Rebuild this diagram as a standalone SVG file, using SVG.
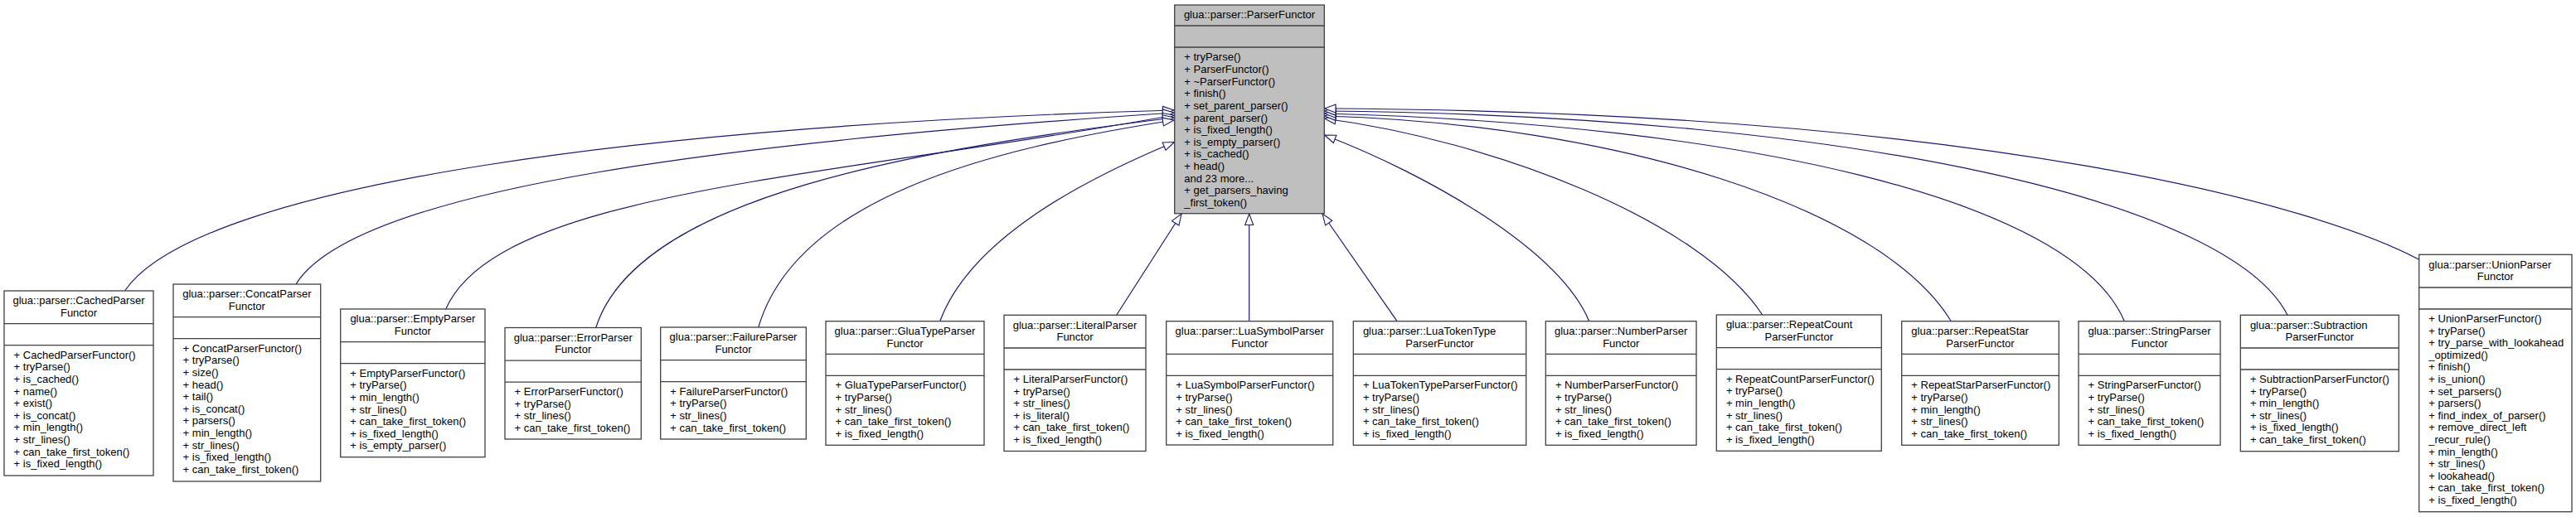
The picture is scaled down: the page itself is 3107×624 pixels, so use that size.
<svg xmlns="http://www.w3.org/2000/svg" width="3107" height="624" viewBox="0 0 3107 624">
<style>
.bg{fill:#fff}
.box{fill:#fff;stroke:#404040;stroke-width:1.3}
.root{fill:#bfbfbf;stroke:#404040;stroke-width:1.3}
.sep{stroke:#404040;stroke-width:1.3}
text{font-family:"Liberation Sans",Arial,sans-serif;font-size:13px;fill:#000}
.c{text-anchor:middle}
.edge{fill:none;stroke:#191970;stroke-width:1.2;marker-end:url(#arr)}
</style>
<defs>
<marker id="arr" markerUnits="userSpaceOnUse" markerWidth="15" markerHeight="12" refX="13.5" refY="5.5" orient="auto" overflow="visible">
<path d="M0,0.5 L13.5,5.5 L0,10.5 Z" fill="#fff" stroke="#191970" stroke-width="1.1"/>
</marker>
</defs>
<rect class="bg" x="0" y="0" width="3107" height="624"/>

<g id="edges">
<path class="edge" d="M150.5,351 C240,220 800,150 1416,133"/>
<path class="edge" d="M357,343 C430,225 900,170 1416,136"/>
<path class="edge" d="M537.7,373 C600,230 1000,215 1416,139"/>
<path class="edge" d="M718.7,395.5 C770,235 1110,180 1416,142"/>
<path class="edge" d="M914.8,395 C960,240 1190,180 1416,145"/>
<path class="edge" d="M1133.7,387.7 C1170,290 1300,220 1416.5,171.5"/>
<path class="edge" d="M1346.7,380.3 L1425,258"/>
<path class="edge" d="M1506.7,387.7 L1506.7,258"/>
<path class="edge" d="M1685,387.7 L1595,258"/>
<path class="edge" d="M1916.7,387.7 C1880,300 1720,210 1597.5,163"/>
<path class="edge" d="M2125.7,380 C2050,265 1800,170 1597.5,143"/>
<path class="edge" d="M2353.3,387.7 C2270,250 1950,150 1597.5,140"/>
<path class="edge" d="M2562.3,387.7 C2500,240 2100,150 1597.5,137"/>
<path class="edge" d="M2759,380.3 C2690,245 2250,140 1597.5,134"/>
<path class="edge" d="M2917.7,313.3 C2800,250 2400,135 1597.5,131"/>
</g>

<g id="ParserFunctor">
<rect class="root" x="1416.7" y="6" width="180.6" height="251.7"/>
<line class="sep" x1="1416.7" y1="31" x2="1597.3" y2="31"/>
<line class="sep" x1="1416.7" y1="57" x2="1597.3" y2="57"/>
<text class="c" x="1507" y="21.8">glua::parser::ParserFunctor</text>
<text x="1428.3" y="73.4">+ tryParse()</text>
<text x="1428.3" y="88">+ ParserFunctor()</text>
<text x="1428.3" y="102.6">+ ~ParserFunctor()</text>
<text x="1428.3" y="117.2">+ finish()</text>
<text x="1428.3" y="131.8">+ set_parent_parser()</text>
<text x="1428.3" y="146.5">+ parent_parser()</text>
<text x="1428.3" y="161.1">+ is_fixed_length()</text>
<text x="1428.3" y="175.7">+ is_empty_parser()</text>
<text x="1428.3" y="190.3">+ is_cached()</text>
<text x="1428.3" y="204.9">+ head()</text>
<text x="1428.3" y="219.5">and 23 more...</text>
<text x="1428.3" y="234.1">+ get_parsers_having</text>
<text x="1428.3" y="248.7">_first_token()</text>
</g>

<g id="CachedParserFunctor">
<rect class="box" x="5" y="351" width="180" height="223"/>
<line class="sep" x1="5" y1="390.7" x2="185" y2="390.7"/>
<line class="sep" x1="5" y1="416.7" x2="185" y2="416.7"/>
<text class="c" x="95" y="367.2">glua::parser::CachedParser</text>
<text class="c" x="95" y="381.8">Functor</text>
<text x="16.6" y="432.7">+ CachedParserFunctor()</text>
<text x="16.6" y="447.3">+ tryParse()</text>
<text x="16.6" y="461.9">+ is_cached()</text>
<text x="16.6" y="476.5">+ name()</text>
<text x="16.6" y="491.1">+ exist()</text>
<text x="16.6" y="505.7">+ is_concat()</text>
<text x="16.6" y="520.3">+ min_length()</text>
<text x="16.6" y="534.9">+ str_lines()</text>
<text x="16.6" y="549.5">+ can_take_first_token()</text>
<text x="16.6" y="564.1">+ is_fixed_length()</text>
</g>

<g id="ConcatParserFunctor">
<rect class="box" x="209" y="343" width="177.7" height="238"/>
<line class="sep" x1="209" y1="382.7" x2="386.7" y2="382.7"/>
<line class="sep" x1="209" y1="408.7" x2="386.7" y2="408.7"/>
<text class="c" x="297.9" y="359.2">glua::parser::ConcatParser</text>
<text class="c" x="297.9" y="373.8">Functor</text>
<text x="220.6" y="424.7">+ ConcatParserFunctor()</text>
<text x="220.6" y="439.3">+ tryParse()</text>
<text x="220.6" y="453.9">+ size()</text>
<text x="220.6" y="468.5">+ head()</text>
<text x="220.6" y="483.1">+ tail()</text>
<text x="220.6" y="497.7">+ is_concat()</text>
<text x="220.6" y="512.3">+ parsers()</text>
<text x="220.6" y="526.9">+ min_length()</text>
<text x="220.6" y="541.5">+ str_lines()</text>
<text x="220.6" y="556.1">+ is_fixed_length()</text>
<text x="220.6" y="570.7">+ can_take_first_token()</text>
</g>

<g id="EmptyParserFunctor">
<rect class="box" x="410.7" y="373" width="174.3" height="178.7"/>
<line class="sep" x1="410.7" y1="412.7" x2="585" y2="412.7"/>
<line class="sep" x1="410.7" y1="438.7" x2="585" y2="438.7"/>
<text class="c" x="497.9" y="389.2">glua::parser::EmptyParser</text>
<text class="c" x="497.9" y="403.8">Functor</text>
<text x="422.3" y="454.7">+ EmptyParserFunctor()</text>
<text x="422.3" y="469.3">+ tryParse()</text>
<text x="422.3" y="483.9">+ min_length()</text>
<text x="422.3" y="498.5">+ str_lines()</text>
<text x="422.3" y="513.1">+ can_take_first_token()</text>
<text x="422.3" y="527.7">+ is_fixed_length()</text>
<text x="422.3" y="542.3">+ is_empty_parser()</text>
</g>

<g id="ErrorParserFunctor">
<rect class="box" x="609" y="395.5" width="164.3" height="134.5"/>
<line class="sep" x1="609" y1="435.2" x2="773.3" y2="435.2"/>
<line class="sep" x1="609" y1="461.2" x2="773.3" y2="461.2"/>
<text class="c" x="691.2" y="411.7">glua::parser::ErrorParser</text>
<text class="c" x="691.2" y="426.3">Functor</text>
<text x="620.6" y="477.2">+ ErrorParserFunctor()</text>
<text x="620.6" y="491.8">+ tryParse()</text>
<text x="620.6" y="506.4">+ str_lines()</text>
<text x="620.6" y="521">+ can_take_first_token()</text>
</g>

<g id="FailureParserFunctor">
<rect class="box" x="796.7" y="395" width="175.6" height="135"/>
<line class="sep" x1="796.7" y1="434.7" x2="972.3" y2="434.7"/>
<line class="sep" x1="796.7" y1="460.7" x2="972.3" y2="460.7"/>
<text class="c" x="884.5" y="411.2">glua::parser::FailureParser</text>
<text class="c" x="884.5" y="425.8">Functor</text>
<text x="808.3" y="476.7">+ FailureParserFunctor()</text>
<text x="808.3" y="491.3">+ tryParse()</text>
<text x="808.3" y="505.9">+ str_lines()</text>
<text x="808.3" y="520.5">+ can_take_first_token()</text>
</g>

<g id="GluaTypeParserFunctor">
<rect class="box" x="996" y="387.7" width="191" height="149.6"/>
<line class="sep" x1="996" y1="427.4" x2="1187" y2="427.4"/>
<line class="sep" x1="996" y1="453.4" x2="1187" y2="453.4"/>
<text class="c" x="1091.5" y="403.9">glua::parser::GluaTypeParser</text>
<text class="c" x="1091.5" y="418.5">Functor</text>
<text x="1007.6" y="469.4">+ GluaTypeParserFunctor()</text>
<text x="1007.6" y="484">+ tryParse()</text>
<text x="1007.6" y="498.6">+ str_lines()</text>
<text x="1007.6" y="513.2">+ can_take_first_token()</text>
<text x="1007.6" y="527.8">+ is_fixed_length()</text>
</g>

<g id="LiteralParserFunctor">
<rect class="box" x="1211" y="380.3" width="171" height="164.2"/>
<line class="sep" x1="1211" y1="420" x2="1382" y2="420"/>
<line class="sep" x1="1211" y1="446" x2="1382" y2="446"/>
<text class="c" x="1296.5" y="396.5">glua::parser::LiteralParser</text>
<text class="c" x="1296.5" y="411.1">Functor</text>
<text x="1222.6" y="462">+ LiteralParserFunctor()</text>
<text x="1222.6" y="476.6">+ tryParse()</text>
<text x="1222.6" y="491.2">+ str_lines()</text>
<text x="1222.6" y="505.8">+ is_literal()</text>
<text x="1222.6" y="520.4">+ can_take_first_token()</text>
<text x="1222.6" y="535">+ is_fixed_length()</text>
</g>

<g id="LuaSymbolParserFunctor">
<rect class="box" x="1406.7" y="387.7" width="201" height="149.3"/>
<line class="sep" x1="1406.7" y1="427.4" x2="1607.7" y2="427.4"/>
<line class="sep" x1="1406.7" y1="453.4" x2="1607.7" y2="453.4"/>
<text class="c" x="1507.2" y="403.9">glua::parser::LuaSymbolParser</text>
<text class="c" x="1507.2" y="418.5">Functor</text>
<text x="1418.3" y="469.4">+ LuaSymbolParserFunctor()</text>
<text x="1418.3" y="484">+ tryParse()</text>
<text x="1418.3" y="498.6">+ str_lines()</text>
<text x="1418.3" y="513.2">+ can_take_first_token()</text>
<text x="1418.3" y="527.8">+ is_fixed_length()</text>
</g>

<g id="LuaTokenTypeParserFunctor">
<rect class="box" x="1632.3" y="387.7" width="208.4" height="149.6"/>
<line class="sep" x1="1632.3" y1="427.4" x2="1840.7" y2="427.4"/>
<line class="sep" x1="1632.3" y1="453.4" x2="1840.7" y2="453.4"/>
<text x="1643.9" y="403.9">glua::parser::LuaTokenType</text>
<text class="c" x="1736.5" y="418.5">ParserFunctor</text>
<text x="1643.9" y="469.4">+ LuaTokenTypeParserFunctor()</text>
<text x="1643.9" y="484">+ tryParse()</text>
<text x="1643.9" y="498.6">+ str_lines()</text>
<text x="1643.9" y="513.2">+ can_take_first_token()</text>
<text x="1643.9" y="527.8">+ is_fixed_length()</text>
</g>

<g id="NumberParserFunctor">
<rect class="box" x="1864.3" y="387.7" width="181.7" height="149.6"/>
<line class="sep" x1="1864.3" y1="427.4" x2="2046" y2="427.4"/>
<line class="sep" x1="1864.3" y1="453.4" x2="2046" y2="453.4"/>
<text class="c" x="1955.2" y="403.9">glua::parser::NumberParser</text>
<text class="c" x="1955.2" y="418.5">Functor</text>
<text x="1875.9" y="469.4">+ NumberParserFunctor()</text>
<text x="1875.9" y="484">+ tryParse()</text>
<text x="1875.9" y="498.6">+ str_lines()</text>
<text x="1875.9" y="513.2">+ can_take_first_token()</text>
<text x="1875.9" y="527.8">+ is_fixed_length()</text>
</g>

<g id="RepeatCountParserFunctor">
<rect class="box" x="2070.3" y="380" width="199" height="164.3"/>
<line class="sep" x1="2070.3" y1="419.7" x2="2269.3" y2="419.7"/>
<line class="sep" x1="2070.3" y1="445.7" x2="2269.3" y2="445.7"/>
<text x="2081.9" y="396.2">glua::parser::RepeatCount</text>
<text class="c" x="2169.8" y="410.8">ParserFunctor</text>
<text x="2081.9" y="461.7">+ RepeatCountParserFunctor()</text>
<text x="2081.9" y="476.3">+ tryParse()</text>
<text x="2081.9" y="490.9">+ min_length()</text>
<text x="2081.9" y="505.5">+ str_lines()</text>
<text x="2081.9" y="520.1">+ can_take_first_token()</text>
<text x="2081.9" y="534.7">+ is_fixed_length()</text>
</g>

<g id="RepeatStarParserFunctor">
<rect class="box" x="2293.7" y="387.7" width="189.6" height="149.6"/>
<line class="sep" x1="2293.7" y1="427.4" x2="2483.3" y2="427.4"/>
<line class="sep" x1="2293.7" y1="453.4" x2="2483.3" y2="453.4"/>
<text x="2305.3" y="403.9">glua::parser::RepeatStar</text>
<text class="c" x="2388.5" y="418.5">ParserFunctor</text>
<text x="2305.3" y="469.4">+ RepeatStarParserFunctor()</text>
<text x="2305.3" y="484">+ tryParse()</text>
<text x="2305.3" y="498.6">+ min_length()</text>
<text x="2305.3" y="513.2">+ str_lines()</text>
<text x="2305.3" y="527.8">+ can_take_first_token()</text>
</g>

<g id="StringParserFunctor">
<rect class="box" x="2507" y="387.7" width="171" height="149.6"/>
<line class="sep" x1="2507" y1="427.4" x2="2678" y2="427.4"/>
<line class="sep" x1="2507" y1="453.4" x2="2678" y2="453.4"/>
<text class="c" x="2592.5" y="403.9">glua::parser::StringParser</text>
<text class="c" x="2592.5" y="418.5">Functor</text>
<text x="2518.6" y="469.4">+ StringParserFunctor()</text>
<text x="2518.6" y="484">+ tryParse()</text>
<text x="2518.6" y="498.6">+ str_lines()</text>
<text x="2518.6" y="513.2">+ can_take_first_token()</text>
<text x="2518.6" y="527.8">+ is_fixed_length()</text>
</g>

<g id="SubtractionParserFunctor">
<rect class="box" x="2702.3" y="380.3" width="191" height="164.4"/>
<line class="sep" x1="2702.3" y1="420" x2="2893.3" y2="420"/>
<line class="sep" x1="2702.3" y1="446" x2="2893.3" y2="446"/>
<text x="2713.9" y="396.5">glua::parser::Subtraction</text>
<text class="c" x="2797.8" y="411.1">ParserFunctor</text>
<text x="2713.9" y="462">+ SubtractionParserFunctor()</text>
<text x="2713.9" y="476.6">+ tryParse()</text>
<text x="2713.9" y="491.2">+ min_length()</text>
<text x="2713.9" y="505.8">+ str_lines()</text>
<text x="2713.9" y="520.4">+ is_fixed_length()</text>
<text x="2713.9" y="535">+ can_take_first_token()</text>
</g>

<g id="UnionParserFunctor">
<rect class="box" x="2917.7" y="307.3" width="184.3" height="310.4"/>
<line class="sep" x1="2917.7" y1="347" x2="3102" y2="347"/>
<line class="sep" x1="2917.7" y1="373" x2="3102" y2="373"/>
<text x="2929.3" y="323.5">glua::parser::UnionParser</text>
<text class="c" x="3009.9" y="338.1">Functor</text>
<text x="2929.3" y="389">+ UnionParserFunctor()</text>
<text x="2929.3" y="403.6">+ tryParse()</text>
<text x="2929.3" y="418.2">+ try_parse_with_lookahead</text>
<text x="2929.3" y="432.8">_optimized()</text>
<text x="2929.3" y="447.4">+ finish()</text>
<text x="2929.3" y="462">+ is_union()</text>
<text x="2929.3" y="476.6">+ set_parsers()</text>
<text x="2929.3" y="491.2">+ parsers()</text>
<text x="2929.3" y="505.8">+ find_index_of_parser()</text>
<text x="2929.3" y="520.4">+ remove_direct_left</text>
<text x="2929.3" y="535">_recur_rule()</text>
<text x="2929.3" y="549.6">+ min_length()</text>
<text x="2929.3" y="564.2">+ str_lines()</text>
<text x="2929.3" y="578.8">+ lookahead()</text>
<text x="2929.3" y="593.4">+ can_take_first_token()</text>
<text x="2929.3" y="608">+ is_fixed_length()</text>
</g>
</svg>
